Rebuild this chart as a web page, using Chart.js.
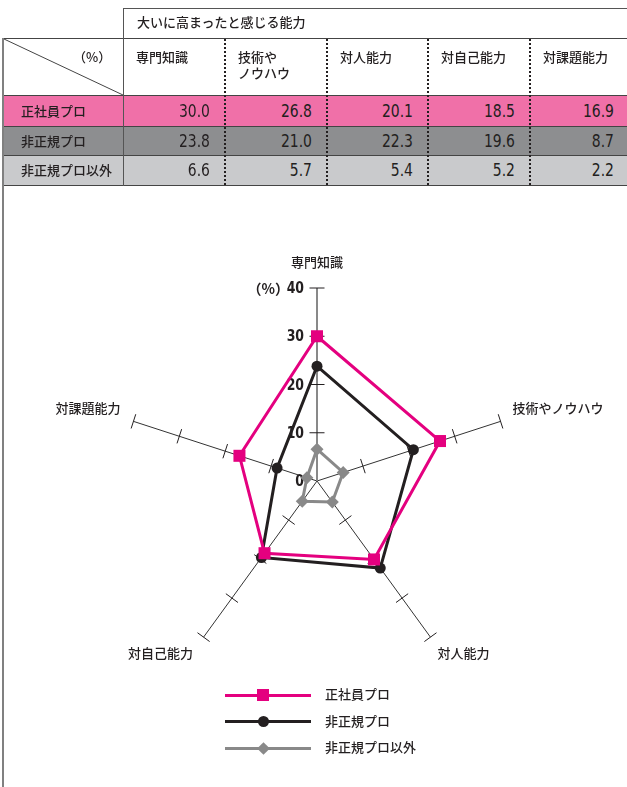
<!DOCTYPE html>
<html lang="ja">
<head>
<meta charset="UTF-8">
<title>大いに高まったと感じる能力</title>
<style>
  body {
    margin: 0;
    padding: 0;
    width: 627px;
    height: 787px;
    overflow: hidden;
    background: #fff;
    font-family: 'Noto Sans CJK JP', 'Noto Sans', sans-serif;
    color: #231f20;
  }
  #chart {
    position: absolute;
    left: 0;
    top: 0;
  }
  #tbl, #legend {
    position: absolute;
    left: 0;
    top: 0;
  }
  .t {
    position: absolute;
    font-size: 13px;
    font-weight: 500;
    line-height: 16px;
    white-space: pre;
  }
  .num {
    position: absolute;
    font-family: 'DejaVu Sans', sans-serif;
    font-size: 17px;
    line-height: 20px;
    text-align: right;
    transform: scaleX(0.82);
    transform-origin: right center;
  }
  .leg-line {
    position: absolute;
    height: 3px;
  }
  .leg-mark {
    position: absolute;
  }
</style>
</head>
<body>
<canvas id="chart" width="627" height="787"></canvas>
<div id="tbl"></div>
<div id="legend"></div>
<script src="https://cdn.jsdelivr.net/npm/chart.js@4/dist/chart.umd.min.js"></script>
<script>
  var axisLabels = ['専門知識', '技術やノウハウ', '対人能力', '対自己能力', '対課題能力'];
  var tableHeads = ['専門知識', '技術や\nノウハウ', '対人能力', '対自己能力', '対課題能力'];
  var seriesNames = ['正社員プロ', '非正規プロ', '非正規プロ以外'];
  var seishainPro = [30.0, 26.8, 20.1, 18.5, 16.9];
  var hiseikiPro = [23.8, 21.0, 22.3, 19.6, 8.7];
  var hiseikiIgai = [6.6, 5.7, 5.4, 5.2, 2.2];
  var tickValues = [0, 10, 20, 30, 40];

  var PINK = '#e4007f';
  var BLACK = '#231f20';
  var GRAY = '#898989';

  // ---- table ----
  var tbl = document.getElementById('tbl');
  function box(x, y, w, h, css) {
    var d = document.createElement('div');
    d.style.cssText = 'position:absolute;left:' + x + 'px;top:' + y + 'px;width:' + w + 'px;height:' + h + 'px;' + (css || '');
    tbl.appendChild(d);
    return d;
  }
  function text(x, y, s, cls, css) {
    var d = document.createElement('div');
    d.className = cls || 't';
    d.textContent = s;
    d.style.cssText = 'left:' + x + 'px;top:' + y + 'px;' + (css || '');
    tbl.appendChild(d);
    return d;
  }

  var colX = [3, 123, 225, 327, 428, 530, 627];
  var rowY = [95, 126, 155, 185];
  var rowBg = ['#f070a8', '#8d8e90', '#c9cacc'];
  var rowValues = [seishainPro, hiseikiPro, hiseikiIgai];

  rowBg.forEach(function (c, i) {
    box(3, rowY[i], 624, rowY[i + 1] - rowY[i], 'background:' + c);
  });
  // horizontal rules
  box(123, 8, 504, 1, 'background:#555');
  [38, 95, 126, 155, 185].forEach(function (y) {
    box(3, y, 624, 1, 'background:#444');
  });
  // vertical rules
  box(2, 38, 2, 749, 'background:#808080');
  box(123, 8, 1, 178, 'background:#555');
  for (var c = 2; c <= 5; c++) {
    box(colX[c] - 1, 39, 0, 146, 'border-left:2px dotted #231f20');
  }
  // diagonal in corner cell
  var svg = document.createElementNS('http://www.w3.org/2000/svg', 'svg');
  svg.setAttribute('width', '130');
  svg.setAttribute('height', '100');
  svg.style.cssText = 'position:absolute;left:0;top:0';
  svg.innerHTML = '<line x1="4" y1="39" x2="123" y2="95" stroke="#444" stroke-width="1"/>';
  tbl.appendChild(svg);

  text(137, 14, '大いに高まったと感じる能力');
  text(73, 49, '（%）', 't', 'width:38px;text-align:right');
  tableHeads.forEach(function (h, i) {
    text(colX[i + 1] + 13, 49, h);
  });
  seriesNames.forEach(function (name, r) {
    var mid = (rowY[r] + rowY[r + 1]) / 2;
    text(21, mid - 8, name);
    rowValues[r].forEach(function (v, i) {
      var right = colX[i + 2] - (i === 4 ? 13 : 15);
      text(right - 80, mid - 10, v.toFixed(1), 'num', 'width:80px');
    });
  });

  // ---- legend ----
  var legend = document.getElementById('legend');
  var legendItems = [
    { color: PINK, shape: 'square' },
    { color: BLACK, shape: 'circle' },
    { color: GRAY, shape: 'diamond' }
  ];
  legendItems.forEach(function (it, i) {
    var y = 695 + i * 26.5;
    var line = document.createElement('div');
    line.className = 'leg-line';
    line.style.cssText = 'left:225px;top:' + (y - 1.5) + 'px;width:86px;background:' + it.color;
    legend.appendChild(line);
    var m = document.createElement('div');
    m.className = 'leg-mark';
    var s = it.shape === 'circle' ? 11 : (it.shape === 'diamond' ? 9 : 12);
    var css = 'left:' + (263 - s / 2) + 'px;top:' + (y - s / 2) + 'px;width:' + s + 'px;height:' + s + 'px;background:' + it.color + ';';
    if (it.shape === 'circle') css += 'border-radius:50%;';
    if (it.shape === 'diamond') css += 'transform:rotate(45deg);';
    m.style.cssText = css;
    legend.appendChild(m);
    var t = document.createElement('div');
    t.className = 't';
    t.textContent = seriesNames[i];
    t.style.cssText = 'left:325px;top:' + (y - 9) + 'px';
    legend.appendChild(t);
  });

  // ---- radar ----
  // offsets of the axis names from the outer end of each spoke
  var labelOffsets = [
    { dx: 0, dy: -26, align: 'center' },
    { dx: 12, dy: -13, align: 'left' },
    { dx: 33, dy: 16, align: 'center' },
    { dx: -43, dy: 16, align: 'center' },
    { dx: -13, dy: -13, align: 'right' }
  ];

  var axisDecor = {
    id: 'axisDecor',
    beforeDatasetsDraw: function (chart) {
      var scale = chart.scales.r;
      var ctx = chart.ctx;
      ctx.save();
      // cross ticks on every spoke
      ctx.strokeStyle = BLACK;
      ctx.lineWidth = 1;
      for (var i = 0; i < axisLabels.length; i++) {
        var a = scale.getIndexAngle(i);
        var px = Math.cos(a), py = Math.sin(a);
        tickValues.forEach(function (v) {
          if (v === 0) return;
          var p = scale.getPointPositionForValue(i, v);
          var half = 7.5;
          ctx.beginPath();
          ctx.moveTo(p.x - px * half, p.y - py * half);
          ctx.lineTo(p.x + px * half, p.y + py * half);
          ctx.stroke();
        });
      }
      // value labels along the top spoke (narrowed digits)
      ctx.fillStyle = BLACK;
      ctx.textAlign = 'right';
      ctx.textBaseline = 'middle';
      ctx.font = 'bold 16px "DejaVu Sans", sans-serif';
      tickValues.forEach(function (v) {
        var p = scale.getPointPositionForValue(0, v);
        ctx.save();
        ctx.translate(p.x - 13, p.y + 1);
        ctx.scale(0.78, 1);
        ctx.fillText(String(v), 0, 0);
        ctx.restore();
      });
      var top = scale.getPointPositionForValue(0, 40);
      ctx.font = 'bold 14px "Noto Sans CJK JP", sans-serif';
      ctx.fillText('（%）', top.x - 28, top.y + 1);
      // axis names
      ctx.font = '500 13px "Noto Sans CJK JP", sans-serif';
      axisLabels.forEach(function (name, i) {
        var p = scale.getPointPositionForValue(i, 40);
        var o = labelOffsets[i];
        ctx.textAlign = o.align;
        ctx.fillText(name, p.x + o.dx, p.y + o.dy);
      });
      ctx.restore();
    }
  };

  var ctx = document.getElementById('chart').getContext('2d');
  var chart = new Chart(ctx, {
    type: 'radar',
    data: {
      labels: axisLabels,
      datasets: [
        {
          label: seriesNames[0],
          data: seishainPro,
          borderColor: PINK,
          backgroundColor: PINK,
          borderWidth: 3,
          fill: false,
          pointStyle: 'rect',
          pointRadius: 8.5,
          pointBorderWidth: 0
        },
        {
          label: seriesNames[1],
          data: hiseikiPro,
          borderColor: BLACK,
          backgroundColor: BLACK,
          borderWidth: 3,
          fill: false,
          pointStyle: 'circle',
          pointRadius: 5.5,
          pointBorderWidth: 0
        },
        {
          label: seriesNames[2],
          data: hiseikiIgai,
          borderColor: GRAY,
          backgroundColor: GRAY,
          borderWidth: 3,
          fill: false,
          pointStyle: 'rectRot',
          pointRadius: 6.5,
          pointBorderWidth: 0
        }
      ]
    },
    options: {
      responsive: false,
      animation: false,
      layout: {
        padding: { left: 124, right: 117, top: 288, bottom: 113 }
      },
      plugins: {
        legend: { display: false },
        tooltip: { enabled: false }
      },
      scales: {
        r: {
          min: 0,
          max: 40,
          ticks: { display: false, stepSize: 10 },
          grid: { display: false },
          pointLabels: { display: false },
          angleLines: {
            color: function (c) { return c.index === 0 ? GRAY : '#333'; },
            lineWidth: function (c) { return c.index === 0 ? 2 : 1; }
          }
        }
      }
    },
    plugins: [axisDecor]
  });
</script>
</body>
</html>
